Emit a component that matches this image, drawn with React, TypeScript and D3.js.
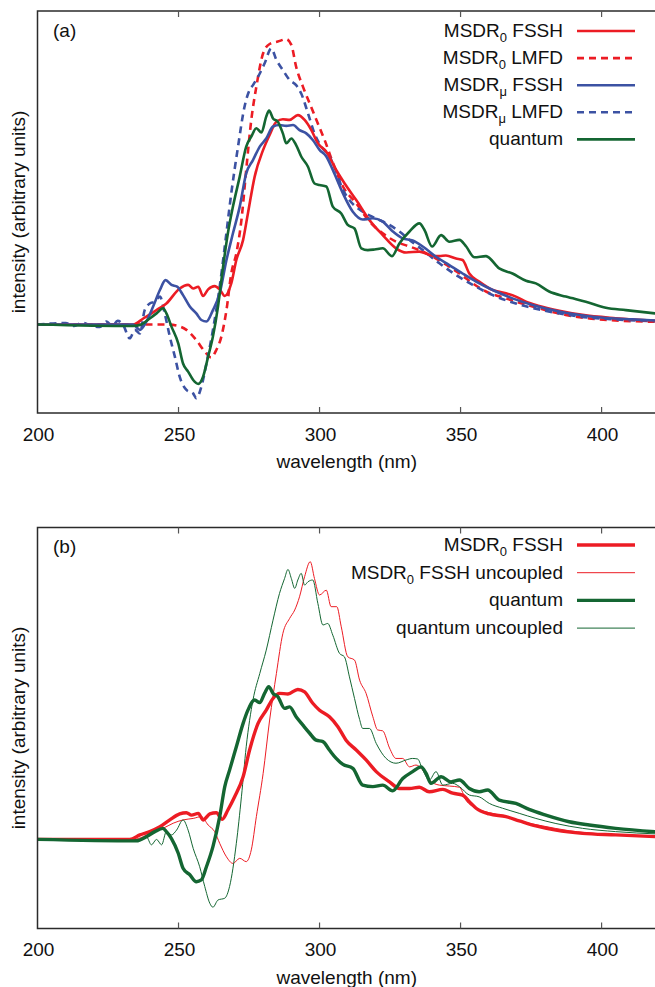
import React from "react";
import * as d3 from "d3";

type Pt = [number, number];

// ---------- Panel (a) data: [wavelength nm, intensity arb.] ----------
const aMsdr0Fssh: Pt[] = [[200,0],[233.9,0],[237.5,0.02],[242.2,0.048],[245.7,0.07],[250.4,0.12],[253.4,0.132],[255.2,0.12],[257,0.126],[258.7,0.095],[260.5,0.117],[262.8,0.128],[264.6,0.117],[266.4,0.095],[268.7,0.137],[270.5,0.215],[272.9,0.282],[274.6,0.37],[277,0.493],[280,0.582],[282.3,0.632],[284.7,0.676],[287,0.684],[289.4,0.682],[292.3,0.698],[294.7,0.682],[297.1,0.648],[299.4,0.604],[302.4,0.576],[305.9,0.515],[308.9,0.47],[313,0.415],[317.7,0.348],[322.4,0.298],[327.1,0.254],[330.7,0.24],[335.4,0.243],[339,0.232],[342.5,0.228],[344.8,0.23],[348.4,0.22],[350.7,0.215],[353.1,0.17],[356.6,0.143],[361.4,0.115],[366.1,0.104],[369.6,0.093],[373.2,0.076],[377.9,0.062],[385,0.046],[393.2,0.032],[405,0.021],[420,0.012]];
const aMsdr0Lmfd: Pt[] = [[200,0],[237.5,0],[245.7,0],[249.9,-0.005],[252.8,-0.018],[256.3,-0.052],[259.3,-0.09],[261.6,-0.11],[263.4,-0.085],[265.2,-0.04],[267,0.048],[268.7,0.17],[270.5,0.237],[272.3,0.348],[274,0.515],[275.8,0.682],[277.6,0.793],[280,0.904],[282.3,0.935],[285.2,0.943],[288.2,0.951],[290,0.932],[291.7,0.859],[294.1,0.793],[296.5,0.737],[299.4,0.67],[301.8,0.615],[304.7,0.54],[308.3,0.46],[313,0.404],[317.7,0.343],[322.4,0.304],[327.1,0.276],[331.9,0.26],[336.6,0.243],[341.3,0.22],[346,0.193],[349.6,0.17],[354.3,0.137],[359,0.11],[366.1,0.087],[375.5,0.06],[387.3,0.032],[399.1,0.017],[420,0.009]];
const aMsdrMuFssh: Pt[] = [[200,0],[233.9,0],[236.3,-0.018],[238.6,0.01],[241,0.06],[243.4,0.115],[245.4,0.148],[247.5,0.132],[249.5,0.126],[251.6,0.098],[254,0.06],[256.3,0.037],[258.1,0.015],[259.9,0.01],[262.2,0.048],[264.6,0.104],[267,0.215],[269.3,0.304],[271.7,0.393],[274,0.504],[276.4,0.548],[278.8,0.593],[281.1,0.62],[283.5,0.66],[285.8,0.665],[288.2,0.662],[290.6,0.665],[292.9,0.648],[295.3,0.637],[297.6,0.615],[300,0.582],[302.4,0.56],[304.7,0.515],[308.3,0.437],[311.8,0.376],[315.3,0.35],[318.9,0.354],[322.4,0.343],[326,0.31],[329.5,0.287],[333,0.28],[336.6,0.26],[341.3,0.226],[346,0.198],[350.7,0.17],[355.5,0.143],[361.4,0.115],[368.4,0.087],[375.5,0.065],[385,0.043],[396.8,0.026],[410.9,0.017],[420,0.013]];
const aMsdrMuLmfd: Pt[] = [[200,0],[210,0.005],[213,-0.005],[216,0.006],[219,-0.004],[222.1,-0.008],[224.5,0.01],[226.5,-0.005],[228.4,0.012],[230.3,0],[232.7,-0.046],[234.5,-0.018],[236.3,-0.03],[238,0.048],[239.8,0.07],[241.6,0.076],[243.4,0.093],[245.1,0.037],[246.9,-0.04],[248.7,-0.107],[250.4,-0.174],[252.8,-0.218],[255.2,-0.23],[256.3,-0.246],[258.1,-0.207],[259.9,-0.13],[262.2,-0.018],[264.6,0.126],[266.4,0.26],[268.7,0.437],[271.1,0.593],[273.4,0.726],[275.2,0.782],[276.4,0.798],[278.2,0.826],[280.5,0.87],[282.9,0.92],[284.7,0.882],[287,0.848],[289.4,0.815],[291.7,0.798],[293.5,0.77],[295.9,0.704],[298.2,0.637],[300.6,0.593],[303.5,0.56],[305.9,0.51],[308,0.455],[310.6,0.415],[315.3,0.376],[320,0.354],[324.8,0.332],[328.3,0.31],[331.9,0.282],[336.6,0.248],[342.5,0.204],[348.4,0.165],[354.3,0.132],[361.4,0.098],[369.6,0.07],[379,0.048],[390.9,0.028],[405,0.017],[420,0.011]];
const aQuantum: Pt[] = [[200,0],[233.9,-0.005],[236.8,0],[239.8,0.02],[242.2,0.037],[244.5,0.054],[245.7,0.037],[247.5,-0.007],[249.9,-0.063],[251.6,-0.13],[253.4,-0.157],[255.2,-0.185],[257,-0.198],[258.7,-0.174],[260.5,-0.107],[262.2,-0.04],[264,0.06],[265.8,0.193],[267.5,0.304],[269.3,0.393],[271.7,0.493],[274,0.593],[275.8,0.626],[277.6,0.654],[279.4,0.64],[281.1,0.693],[282.1,0.713],[283.5,0.687],[285.2,0.676],[287,0.637],[288.2,0.604],[290,0.62],[291.7,0.598],[293.5,0.56],[295.9,0.526],[298.2,0.47],[300,0.465],[302.4,0.46],[304.7,0.393],[307.7,0.37],[310,0.332],[312.4,0.32],[314.8,0.254],[317.1,0.248],[319.5,0.25],[322.4,0.254],[325.7,0.228],[328.3,0.27],[331.9,0.31],[335.4,0.337],[337.2,0.315],[339.9,0.26],[343.1,0.298],[346,0.276],[349.6,0.282],[352,0.26],[354.9,0.224],[359,0.228],[363.7,0.187],[368.4,0.17],[373.2,0.146],[376.7,0.137],[381.4,0.11],[387.3,0.093],[394.4,0.076],[401.5,0.056],[408.6,0.048],[420,0.036]];

// ---------- Panel (b) data ----------
const bMsdr0Fssh: Pt[] = [[200,0],[232.7,0],[236.3,0.015],[239.8,0.026],[243.4,0.042],[246.9,0.065],[250.4,0.085],[252.8,0.089],[254.6,0.081],[257,0.087],[258.7,0.065],[261.1,0.085],[263.4,0.089],[265.5,0.067],[267.5,0.098],[269.9,0.142],[272.9,0.209],[275.2,0.298],[278.2,0.387],[281.1,0.431],[283.5,0.47],[285.8,0.487],[288.8,0.485],[292.3,0.5],[294.7,0.492],[297.6,0.454],[300,0.431],[303.5,0.409],[306.5,0.376],[309.4,0.331],[313,0.298],[316.5,0.265],[320.1,0.226],[324.8,0.192],[328.3,0.17],[331.9,0.17],[335.4,0.174],[338.9,0.159],[343.7,0.167],[347.2,0.154],[350.7,0.148],[353.1,0.126],[355.5,0.104],[360.2,0.085],[366.1,0.076],[370.8,0.062],[376.7,0.045],[383.8,0.031],[393.2,0.02],[405,0.015],[420,0.009]];
const bMsdr0FsshUncoupled: Pt[] = [[200,0],[234,0],[237.5,0.009],[241,0.026],[244.5,0.037],[248.1,0.054],[251.6,0.065],[255.2,0.07],[258.1,0.076],[260.5,0.048],[262.8,0.026],[264.6,-0.013],[267,-0.058],[269.3,-0.08],[271.7,-0.063],[274,-0.074],[275.8,-0.035],[277.6,0.076],[280,0.22],[282.3,0.398],[284.7,0.553],[287,0.687],[289.4,0.737],[291.2,0.765],[292.9,0.809],[294.7,0.876],[296.7,0.926],[298.2,0.87],[300,0.815],[302.4,0.831],[304.1,0.776],[306.1,0.776],[307.7,0.709],[310,0.609],[312.4,0.598],[314.2,0.531],[316.5,0.487],[318.9,0.409],[320.6,0.365],[322.4,0.362],[324.8,0.305],[327.1,0.27],[329.5,0.27],[331.9,0.242],[334.2,0.248],[336.6,0.231],[338.9,0.198],[342.5,0.181],[346,0.178],[349.6,0.174],[351.9,0.131],[355.5,0.104],[360.2,0.089],[366.1,0.076],[372,0.059],[379.1,0.045],[388.5,0.029],[400.3,0.018],[420,0.01]];
const bQuantum: Pt[] = [[200,0],[235.1,-0.005],[238.6,0.009],[241.6,0.026],[244.5,0.037],[245.7,0.026],[247.5,0.003],[249.9,-0.046],[251.6,-0.096],[254,-0.118],[256.3,-0.141],[258.1,-0.135],[259.9,-0.091],[262.2,-0.024],[264.6,0.076],[266.4,0.176],[268.1,0.231],[270.5,0.309],[272.9,0.387],[274.6,0.431],[277,0.465],[278.8,0.456],[280.5,0.487],[282,0.509],[283.5,0.487],[285.2,0.476],[287.6,0.437],[289.4,0.442],[291.7,0.409],[294.1,0.381],[296.5,0.354],[298.8,0.331],[301.2,0.326],[303.5,0.298],[305.9,0.27],[308.3,0.25],[311.8,0.237],[315.3,0.181],[318.9,0.176],[322.4,0.181],[325.9,0.162],[329.5,0.203],[333,0.226],[336,0.242],[337.8,0.22],[339.5,0.187],[343.1,0.209],[346.6,0.192],[349.6,0.198],[353.1,0.17],[356.6,0.159],[359.6,0.165],[363.7,0.131],[369.6,0.12],[374.3,0.1],[380.2,0.081],[388.5,0.059],[395.6,0.048],[405,0.037],[420,0.025]];
const bQuantumUncoupled: Pt[] = [[200,0],[236,0],[238.6,0.009],[240.4,-0.018],[242.2,0],[244,-0.018],[245.7,0.026],[247.5,0.015],[249.3,0.031],[251.6,0.065],[253.4,0.031],[255.2,-0.03],[257.5,-0.091],[259.3,-0.157],[261.1,-0.213],[262.2,-0.226],[264,-0.202],[266.4,-0.196],[268.1,-0.157],[270.5,-0.013],[272.3,0.142],[274,0.309],[276.4,0.465],[278.8,0.553],[281.1,0.631],[283.5,0.731],[285.8,0.82],[287.6,0.87],[288.8,0.9],[290,0.87],[291.2,0.837],[292.3,0.865],[293.5,0.887],[294.7,0.848],[295.9,0.859],[297.6,0.865],[299.4,0.787],[301.2,0.715],[302.9,0.72],[304.7,0.681],[307.1,0.62],[308.8,0.609],[310.6,0.542],[312.4,0.47],[314.2,0.4],[315.3,0.37],[317.7,0.37],[320.1,0.32],[323.6,0.27],[327.1,0.254],[330.7,0.265],[333,0.27],[334.8,0.268],[336.6,0.231],[338.9,0.198],[341.3,0.226],[343.7,0.181],[347.2,0.187],[349.6,0.176],[353.1,0.148],[356.6,0.142],[360.2,0.12],[364.9,0.104],[370.8,0.087],[376.7,0.07],[383.8,0.053],[393.2,0.037],[405,0.026],[420,0.018]];

const xTicks = [200, 250, 300, 350, 400];
const xDomain: [number, number] = [200, 420];
const yLabel = "intensity (arbitrary units)";
const xLabel = "wavelength (nm)";

const RED = "#ec1c24";
const BLUE = "#3c52a3";
const GREEN = "#146632";
const FONT = "'Liberation Sans', Arial, Helvetica, sans-serif";

type Series = {
  data: Pt[];
  color: string;
  width: number;
  dash?: string;
  main: string;
  sub?: string;
  rest: string;
};

const seriesA: Series[] = [
  { data: aMsdr0Fssh, color: RED, width: 2.6, main: "MSDR", sub: "0", rest: " FSSH" },
  { data: aMsdr0Lmfd, color: RED, width: 2.6, dash: "7,5", main: "MSDR", sub: "0", rest: " LMFD" },
  { data: aMsdrMuFssh, color: BLUE, width: 2.6, main: "MSDR", sub: "μ", rest: " FSSH" },
  { data: aMsdrMuLmfd, color: BLUE, width: 2.6, dash: "7,5", main: "MSDR", sub: "μ", rest: " LMFD" },
  { data: aQuantum, color: GREEN, width: 2.6, main: "quantum", rest: "" },
];
const seriesB: Series[] = [
  { data: bMsdr0Fssh, color: RED, width: 3.4, main: "MSDR", sub: "0", rest: " FSSH" },
  { data: bMsdr0FsshUncoupled, color: RED, width: 1, main: "MSDR", sub: "0", rest: " FSSH uncoupled" },
  { data: bQuantum, color: GREEN, width: 3.4, main: "quantum", rest: "" },
  { data: bQuantumUncoupled, color: GREEN, width: 1, main: "quantum uncoupled", rest: "" },
];

const W = 655;
const H = 987;
const LEFT = 37.5;
const RIGHT = 658;

type PanelProps = {
  id: string;
  label: string;
  top: number;
  bottom: number;
  yDomain: [number, number];
  series: Series[];
  legendTop: number;
  legendStep: number;
  drawOrder: number[];
};

function Panel({ id, label, top, bottom, yDomain, series, legendTop, legendStep, drawOrder }: PanelProps) {
  const x = d3.scaleLinear().domain(xDomain).range([LEFT, RIGHT]);
  const y = d3.scaleLinear().domain(yDomain).range([bottom, top]);
  const line = d3
    .line<Pt>()
    .x((d) => x(d[0]))
    .y((d) => y(d[1]))
    .curve(d3.curveMonotoneX);
  const clipId = `clip-${id}`;
  const axisColor = "#2b2b2b";
  return (
    <g>
      <defs>
        <clipPath id={clipId}>
          <rect x={LEFT} y={top} width={RIGHT - LEFT} height={bottom - top} />
        </clipPath>
      </defs>
      <g clipPath={`url(#${clipId})`}>
        {drawOrder.map((i) => {
          const s = series[i];
          return (
            <path
              key={i}
              d={line(s.data) || ""}
              fill="none"
              stroke={s.color}
              strokeWidth={s.width}
              strokeDasharray={s.dash}
              strokeLinejoin="round"
            />
          );
        })}
      </g>
      {/* frame */}
      <rect x={LEFT} y={top} width={RIGHT - LEFT} height={bottom - top} fill="none" stroke={axisColor} strokeWidth={1.5} />
      {/* ticks */}
      {xTicks.slice(1).map((t) => (
        <g key={t}>
          <line x1={x(t)} x2={x(t)} y1={bottom} y2={bottom - 6} stroke="#555" strokeWidth={1.2} />
          <line x1={x(t)} x2={x(t)} y1={top} y2={top + 6} stroke="#555" strokeWidth={1.2} />
        </g>
      ))}
      {xTicks.map((t) => (
        <text key={`l${t}`} x={x(t) + 1} y={bottom + 27.5} textAnchor="middle" fontSize={19} fontFamily={FONT} fill="#111">
          {t}
        </text>
      ))}
      <text x={(LEFT + RIGHT) / 2 - 1} y={bottom + 55} textAnchor="middle" fontSize={19} fontFamily={FONT} fill="#111">
        {xLabel}
      </text>
      <text
        transform={`translate(25,${(top + bottom) / 2}) rotate(-90)`}
        textAnchor="middle"
        fontSize={19}
        fontFamily={FONT}
        fill="#111"
      >
        {yLabel}
      </text>
      <text x={53} y={top + 25.5} fontSize={19} fontFamily={FONT} fill="#111">
        {label}
      </text>
      {/* legend */}
      {series.map((s, i) => {
        const ly = legendTop + i * legendStep;
        return (
          <g key={`lg${i}`}>
            <text x={563} y={ly + 6} textAnchor="end" fontSize={19} fontFamily={FONT} fill="#111">
              {s.main}
              {s.sub ? (
                <tspan fontSize={13} dy={5}>
                  {s.sub}
                </tspan>
              ) : null}
              {s.rest ? <tspan dy={s.sub ? -5 : 0}>{s.rest}</tspan> : null}
            </text>
            <line x1={577} x2={635} y1={ly} y2={ly} stroke={s.color} strokeWidth={s.width} strokeDasharray={s.dash} />
          </g>
        );
      })}
    </g>
  );
}

export default function App() {
  return (
    <svg
      width={W}
      height={H}
      viewBox={`0 0 ${W} ${H}`}
      style={{ position: "absolute", left: 0, top: 0, background: "#fff" }}
    >
      <rect x={0} y={0} width={W} height={H} fill="#fff" />
      <Panel
        id="a"
        label="(a)"
        top={11}
        bottom={413}
        yDomain={[-0.295, 1.045]}
        series={seriesA}
        legendTop={31}
        legendStep={27.1}
        drawOrder={[1, 3, 0, 2, 4]}
      />
      <Panel
        id="b"
        label="(b)"
        top={527.5}
        bottom={928.5}
        yDomain={[-0.297, 1.04]}
        series={seriesB}
        legendTop={545}
        legendStep={27.7}
        drawOrder={[1, 3, 0, 2]}
      />
    </svg>
  );
}
